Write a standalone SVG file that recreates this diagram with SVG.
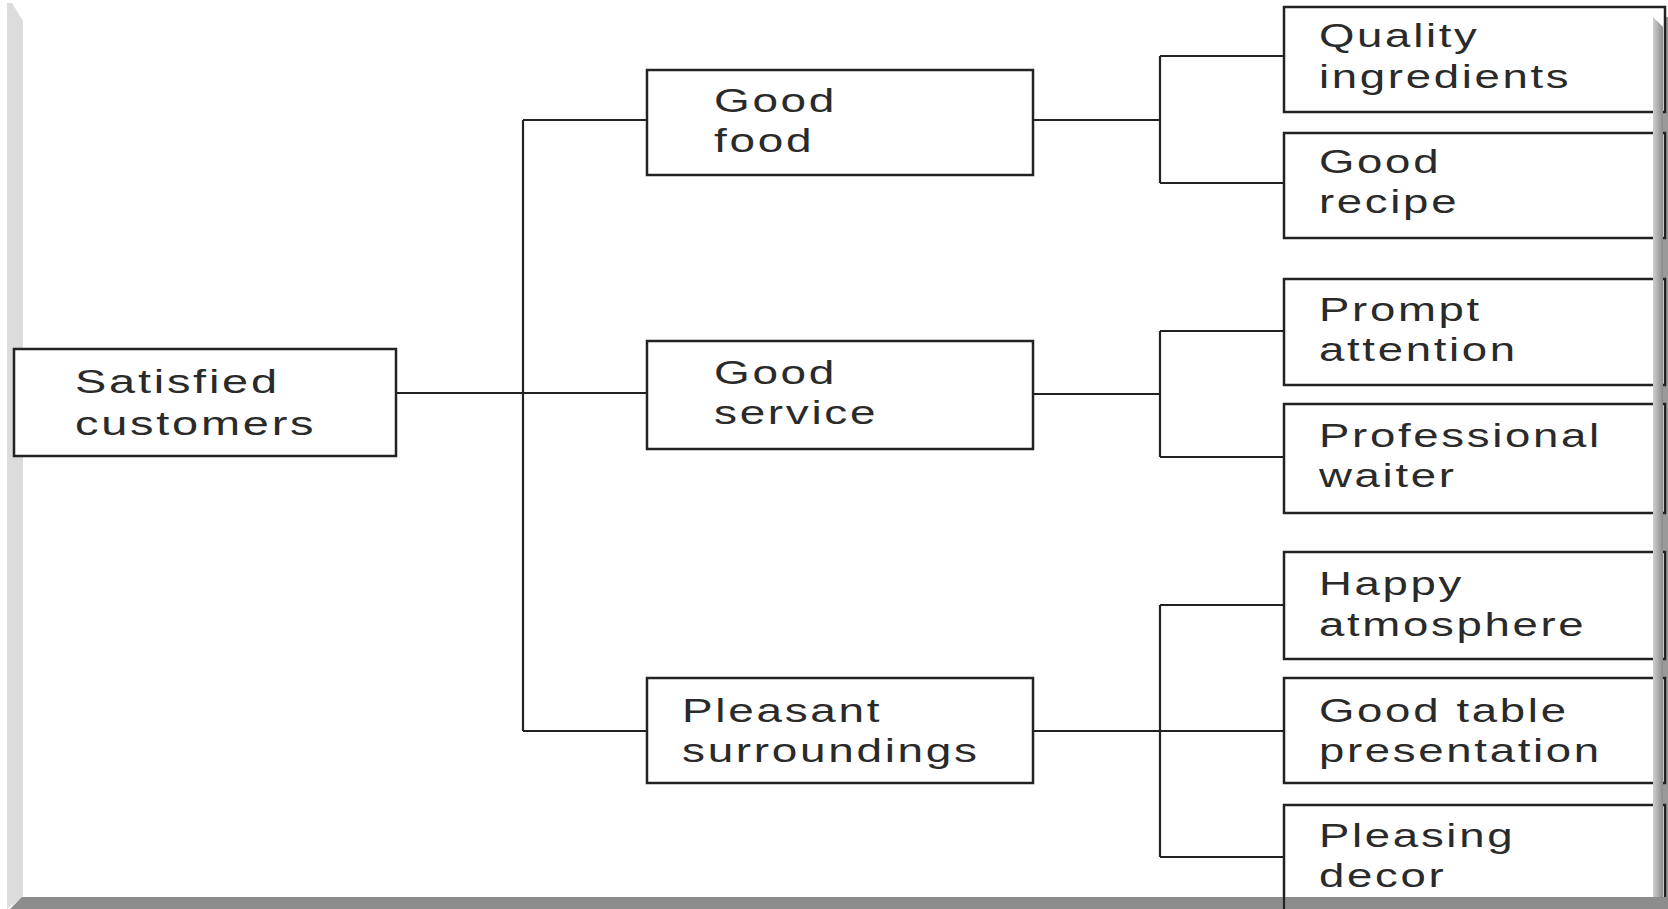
<svg xmlns="http://www.w3.org/2000/svg" width="1668" height="909" viewBox="0 0 1668 909">
  <defs>
    <linearGradient id="rband" x1="0" y1="0" x2="1" y2="0">
      <stop offset="0" stop-color="#d0d0d0"/>
      <stop offset="1" stop-color="#8a8a8a"/>
    </linearGradient>
  </defs>
  <style>
    .box { fill: #ffffff; stroke: #222222; stroke-width: 2.5; }
    .edge { fill: none; stroke: #222222; stroke-width: 2.2; }
    .lbl { font-family: "Liberation Sans", Arial, sans-serif; font-size: 34px; fill: #2a2a2a; letter-spacing: 2px; }
  </style>
  <rect x="0" y="0" width="1668" height="909" fill="#ffffff"/>
  <!-- frame -->
  <polygon points="7,3 12,3 23,21 23,897 7,909" fill="#dcdcdc"/>
  <rect x="1653" y="17" width="15" height="892" fill="#9a9a9a"/>

  <g id="connectors">
    <path class="edge" d="M396,393 H647"/>
    <path class="edge" d="M523,120 V731 M523,120 H647 M523,731 H647"/>
    <path class="edge" d="M1033,120 H1160 M1160,56 V183 M1160,56 H1284 M1160,183 H1284"/>
    <path class="edge" d="M1033,394 H1160 M1160,331 V457 M1160,331 H1284 M1160,457 H1284"/>
    <path class="edge" d="M1033,731 H1284 M1160,605 V857 M1160,605 H1284 M1160,857 H1284"/>
  </g>

  <g id="satisfied-customers">
    <rect class="box" x="14" y="349" width="382" height="107"/>
    <text class="lbl" transform="translate(75,393) scale(1.38,1)"><tspan x="0" y="0">Satisfied</tspan><tspan x="0" y="42">customers</tspan></text>
  </g>
  <g id="good-food">
    <rect class="box" x="647" y="70" width="386" height="105"/>
    <text class="lbl" transform="translate(714,112) scale(1.35,1)"><tspan x="0" y="0">Good</tspan><tspan x="0" y="40">food</tspan></text>
  </g>
  <g id="good-service">
    <rect class="box" x="647" y="341" width="386" height="108"/>
    <text class="lbl" transform="translate(714,384) scale(1.35,1)"><tspan x="0" y="0">Good</tspan><tspan x="0" y="40">service</tspan></text>
  </g>
  <g id="pleasant-surroundings">
    <rect class="box" x="647" y="678" width="386" height="105"/>
    <text class="lbl" transform="translate(682,722) scale(1.35,1)"><tspan x="0" y="0">Pleasant</tspan><tspan x="0" y="40">surroundings</tspan></text>
  </g>

  <g id="quality-ingredients">
    <rect class="box" x="1284" y="7" width="381" height="105"/>
    <text class="lbl" transform="translate(1319,47) scale(1.34,1)"><tspan x="0" y="0">Quality</tspan><tspan x="0" y="41">ingredients</tspan></text>
  </g>
  <g id="good-recipe">
    <rect class="box" x="1284" y="133" width="381" height="105"/>
    <text class="lbl" transform="translate(1319,173) scale(1.34,1)"><tspan x="0" y="0">Good</tspan><tspan x="0" y="40">recipe</tspan></text>
  </g>
  <g id="prompt-attention">
    <rect class="box" x="1284" y="279" width="381" height="106"/>
    <text class="lbl" transform="translate(1319,321) scale(1.34,1)"><tspan x="0" y="0">Prompt</tspan><tspan x="0" y="40">attention</tspan></text>
  </g>
  <g id="professional-waiter">
    <rect class="box" x="1284" y="404" width="381" height="109"/>
    <text class="lbl" transform="translate(1319,447) scale(1.34,1)"><tspan x="0" y="0">Professional</tspan><tspan x="0" y="40">waiter</tspan></text>
  </g>
  <g id="happy-atmosphere">
    <rect class="box" x="1284" y="552" width="381" height="107"/>
    <text class="lbl" transform="translate(1319,595) scale(1.34,1)"><tspan x="0" y="0">Happy</tspan><tspan x="0" y="41">atmosphere</tspan></text>
  </g>
  <g id="good-table-presentation">
    <rect class="box" x="1284" y="678" width="381" height="105"/>
    <text class="lbl" transform="translate(1319,722) scale(1.34,1)"><tspan x="0" y="0">Good table</tspan><tspan x="0" y="40">presentation</tspan></text>
  </g>
  <g id="pleasing-decor">
    <rect class="box" x="1284" y="805" width="381" height="115"/>
    <text class="lbl" transform="translate(1319,847) scale(1.34,1)"><tspan x="0" y="0">Pleasing</tspan><tspan x="0" y="40">decor</tspan></text>
  </g>

  <!-- frame overlays -->
  <polygon points="1653,17 1663,27 1663,909 1653,909" fill="url(#rband)"/>
  <polygon points="22,897 1668,897 1668,909 10,909" fill="#8c8c8c"/>
  <path class="edge" d="M1284,897 V909"/>
</svg>
